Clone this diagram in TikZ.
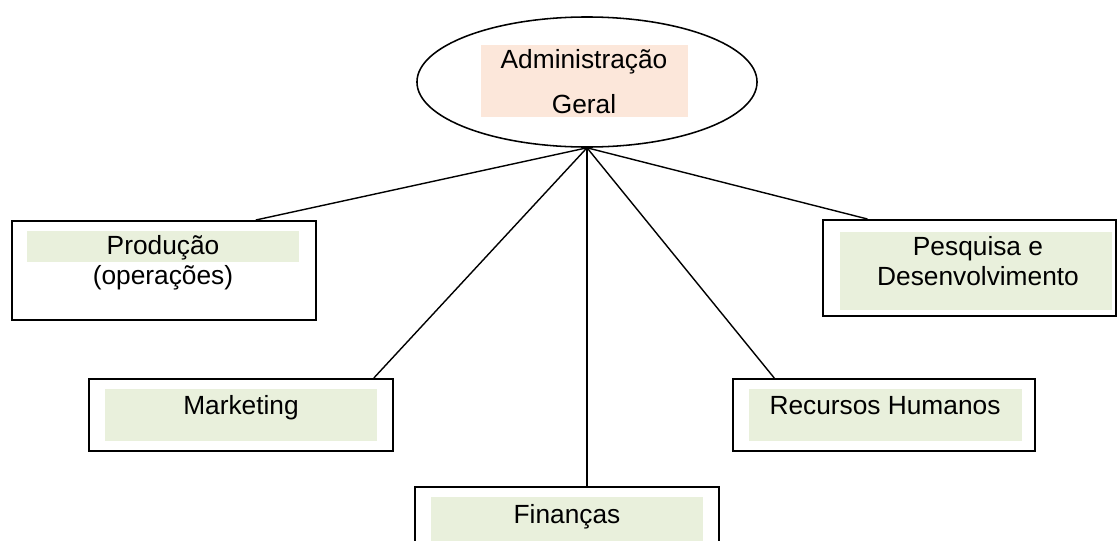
\documentclass[tikz,border=0pt]{standalone}
\usepackage{fontspec}
\setmainfont{Liberation Sans}
\usetikzlibrary{calc,shapes.geometric}
\definecolor{areagreen}{RGB}{233,240,220}
\definecolor{topopeach}{RGB}{252,231,218}

\begin{document}
\begin{tikzpicture}[
    x=0.025cm,y=-0.025cm,
    unitbox/.style={rectangle,draw=black,line width=1.4pt,fill=white,inner sep=0pt},
    greenbar/.style={rectangle,fill=areagreen,inner sep=0pt,minimum width=6.8cm},
    boxtext/.style={font=\fontsize{18.7}{21}\selectfont,align=center,inner sep=0pt,anchor=base},
    link/.style={line width=1pt}
]
    \path[use as bounding box] (0,0) rectangle (1117,540);
    \clip (0,0) rectangle (1117,540);

    \node[ellipse,draw,line width=1.1pt,fill=white,minimum width=8.5cm,minimum height=3.25cm] (admin) at (587,82) {};
    \node[rectangle,fill=topopeach,inner sep=0pt,minimum width=5.175cm,minimum height=1.8cm] (adminfill) at (584.5,81) {};
    \node[boxtext,font=\fontsize{18.7}{32}\selectfont] (admintxt) at (584,113) {Administração\\Geral};

    \node[unitbox,minimum width=7.6cm,minimum height=2.475cm] (prod) at (164,270.5) {};
    \node[greenbar,minimum height=0.775cm] (prodfill) at (163,246.5) {};
    \node[boxtext] (prodtxt) at (163,284) {Produção\\(operações)};

    \node[unitbox,minimum width=7.325cm,minimum height=2.4cm] (pesq) at (969.5,268) {};
    \node[greenbar,minimum height=1.95cm] (pesqfill) at (976,271) {};
    \node[boxtext] (pesqtxt) at (978,285) {Pesquisa e\\Desenvolvimento};

    \node[unitbox,minimum width=7.6cm,minimum height=1.8cm] (mkt) at (241,415) {};
    \node[greenbar,minimum height=1.3cm] (mktfill) at (241,415) {};
    \node[boxtext] (mkttxt) at (241,414) {Marketing};

    \node[unitbox,minimum width=7.55cm,minimum height=1.8cm] (rh) at (884,415) {};
    \node[greenbar,minimum width=6.825cm,minimum height=1.3cm] (rhfill) at (885.5,415) {};
    \node[boxtext] (rhtxt) at (885,414) {Recursos Humanos};

    \node[unitbox,minimum width=7.6cm,minimum height=1.8cm] (fin) at (567,523) {};
    \node[greenbar,minimum height=1.3cm] (finfill) at (567,523) {};
    \node[boxtext] (fintxt) at (567,523) {Finanças};

    \draw[link] (admin.south) -- ($(prod.north west)!0.8!(prod.north east)$);
    \draw[link] (admin.south) -- ($(pesq.north west)!0.154!(pesq.north east)$);
    \draw[link] (admin.south) -- ($(mkt.north west)!0.934!(mkt.north east)$);
    \draw[link] (admin.south) -- ($(rh.north west)!0.139!(rh.north east)$);
    \draw[link] (admin.south) -- (admin.south |- fin.north);
\end{tikzpicture}
\end{document}
